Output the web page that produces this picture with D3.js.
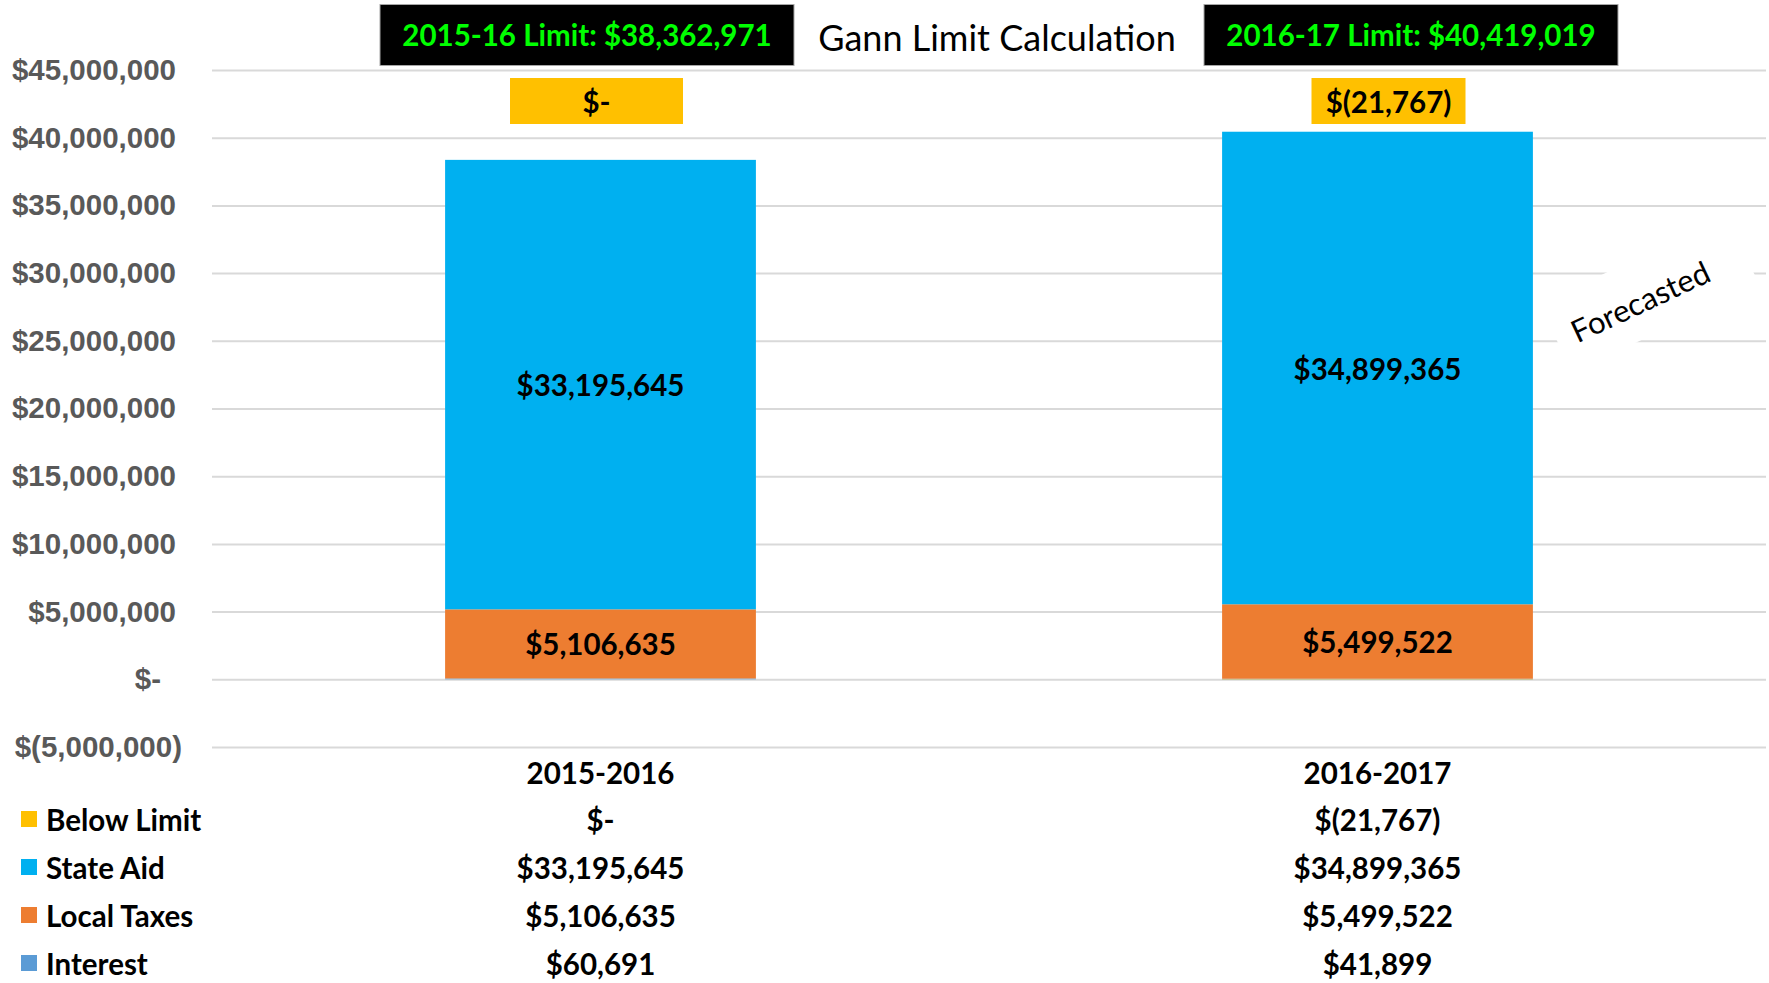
<!DOCTYPE html>
<html>
<head>
<meta charset="utf-8">
<script src="https://cdn.jsdelivr.net/npm/d3@7"></script>
<style>
  body { margin: 0; background: #fff; }
  svg { display: block; font-family: Lato, "Noto Sans", sans-serif; }
</style>
</head>
<body>
<svg width="1769" height="983"></svg>
<script>
// Chart values
const categories = ["2015-2016", "2016-2017"];
const interest = [60691, 41899];
const localTaxes = [5106635, 5499522];
const stateAid = [33195645, 34899365];
const belowLimit = [0, -21767];
const limitNames = ["2015-16 Limit", "2016-17 Limit"];
const limits = [38362971, 40419019];
const yTicks = [-5000000, 0, 5000000, 10000000, 15000000, 20000000, 25000000, 30000000, 35000000, 40000000, 45000000];

const seriesNames = ["Interest", "Local Taxes", "State Aid", "Below Limit"];
const seriesKeys = ["interest", "localTaxes", "stateAid", "belowLimit"];
const colors = {
    interest: "#5B9BD5",
    localTaxes: "#ED7D31",
    stateAid: "#00B0F0",
    belowLimit: "#FFC000"
};

const fs = 29.5; // label font size

// Accounting style money format
const num = d3.format(",.0f");
function money(v) {
    if (v === 0) return "$-";
    if (v < 0) return "$(" + num(-v) + ")";
    return "$" + num(v);
}

function drawChart() {
    const svg = d3.select("svg"),
          margin = {top: 70, right: 3, bottom: 236, left: 212},
          width = +svg.attr("width"),
          height = +svg.attr("height");

    const rows = categories.map((c, i) => ({
        category: c,
        interest: interest[i],
        localTaxes: localTaxes[i],
        stateAid: stateAid[i],
        belowLimit: belowLimit[i]
    }));

    const x = d3.scaleBand()
        .domain(categories)
        .range([margin.left, width - margin.right])
        .paddingInner(0.6)
        .paddingOuter(0.3);

    const y = d3.scaleLinear()
        .domain([yTicks[0], yTicks[yTicks.length - 1]])
        .range([height - margin.bottom, margin.top]);

    // Gridlines + tick labels
    const yAxis = svg.append("g")
        .attr("transform", `translate(${margin.left},0)`)
        .call(d3.axisLeft(y)
            .tickValues(yTicks)
            .tickSize(-(width - margin.left - margin.right))
            .tickPadding(30)
            .tickFormat(money));
    yAxis.select(".domain").remove();
    yAxis.selectAll(".tick line")
        .attr("stroke", "#D9D9D9")
        .attr("stroke-width", 2);
    yAxis.selectAll(".tick text")
        .attr("fill", "#595959")
        .attr("font-size", fs)
        .attr("font-weight", "bold")
        .attr("dx", d => d > 0 ? -6 : (d === 0 ? -21 : 0));

    // "Forecasted" note with white backing
    const note = svg.append("g")
        .attr("transform", "translate(1640,301) rotate(-25)");
    note.append("rect")
        .attr("x", -92).attr("y", -40)
        .attr("width", 207).attr("height", 76)
        .attr("fill", "#fff");
    note.append("text")
        .attr("text-anchor", "middle")
        .attr("dominant-baseline", "central")
        .attr("font-size", 31)
        .text("Forecasted");

    // Stacked bars
    const stack = d3.stack()
        .keys(seriesKeys)
        .offset(d3.stackOffsetDiverging);
    const stacked = stack(rows);

    svg.append("g")
        .selectAll("g")
        .data(stacked)
        .join("g")
        .attr("fill", d => colors[d.key])
        .selectAll("rect")
        .data(d => d)
        .join("rect")
        .attr("x", d => x(d.data.category))
        .attr("width", x.bandwidth())
        .attr("y", d => y(d[1]))
        .attr("height", d => y(d[0]) - y(d[1]));

    // Segment labels
    const labelled = stacked.filter(s => s.key === "localTaxes" || s.key === "stateAid");
    svg.append("g")
        .selectAll("g")
        .data(labelled)
        .join("g")
        .selectAll("text")
        .data(d => d.map(p => ({p, key: d.key})))
        .join("text")
        .attr("x", d => x(d.p.data.category) + x.bandwidth() / 2)
        .attr("y", d => (y(d.p[0]) + y(d.p[1])) / 2)
        .attr("text-anchor", "middle")
        .attr("dominant-baseline", "central")
        .attr("font-size", fs)
        .attr("font-weight", "bold")
        .text(d => money(d.p.data[d.key]));

    // Below limit labels (yellow boxes)
    const boxW = [173, 154], boxShift = [-4, 11];
    const below = svg.append("g")
        .selectAll("g")
        .data(rows)
        .join("g")
        .attr("transform", (d, i) => `translate(${x(d.category) + x.bandwidth() / 2 + boxShift[i]},101)`);
    below.append("rect")
        .attr("x", (d, i) => -boxW[i] / 2)
        .attr("y", -23)
        .attr("width", (d, i) => boxW[i])
        .attr("height", 46)
        .attr("fill", colors.belowLimit);
    below.append("text")
        .attr("text-anchor", "middle")
        .attr("dominant-baseline", "central")
        .attr("font-size", fs)
        .attr("font-weight", "bold")
        .text(d => money(d.belowLimit));

    // Limit boxes (black) and title
    const limitX = [587, 1411];
    const lim = svg.append("g")
        .selectAll("g")
        .data(limits)
        .join("g")
        .attr("transform", (d, i) => `translate(${limitX[i]},35)`);
    lim.append("rect")
        .attr("x", -207).attr("y", -30.5)
        .attr("width", 414).attr("height", 61)
        .attr("fill", "#000")
        .attr("stroke", "#A6A6A6")
        .attr("stroke-width", 1);
    lim.append("text")
        .attr("text-anchor", "middle")
        .attr("dominant-baseline", "central")
        .attr("y", -1)
        .attr("font-size", fs)
        .attr("font-weight", "bold")
        .attr("fill", "#00FF00")
        .text((d, i) => `${limitNames[i]}: ${money(d)}`);

    svg.append("text")
        .attr("x", 997)
        .attr("y", 37)
        .attr("text-anchor", "middle")
        .attr("dominant-baseline", "central")
        .attr("font-size", 36)
        .text("Gann Limit Calculation");

    // Data table under the plot
    const table = svg.append("g");
    table.selectAll(".cat")
        .data(categories)
        .join("text")
        .attr("class", "cat")
        .attr("x", d => x(d) + x.bandwidth() / 2)
        .attr("y", 772)
        .attr("text-anchor", "middle")
        .attr("dominant-baseline", "central")
        .attr("font-size", fs)
        .attr("font-weight", "bold")
        .text(d => d);

    const tableRows = seriesKeys.slice().reverse();
    const rowNames = seriesNames.slice().reverse();
    const rowY = i => 819 + i * 48;

    const tr = table.selectAll(".row")
        .data(tableRows)
        .join("g")
        .attr("class", "row")
        .attr("transform", (d, i) => `translate(0,${rowY(i)})`);
    tr.append("rect")
        .attr("x", 21).attr("y", -8)
        .attr("width", 16).attr("height", 16)
        .attr("fill", d => colors[d]);
    tr.append("text")
        .attr("x", 46)
        .attr("dominant-baseline", "central")
        .attr("font-size", fs)
        .attr("font-weight", "bold")
        .text((d, i) => rowNames[i]);
    tr.selectAll(".val")
        .data(k => rows.map(r => ({cat: r.category, v: r[k]})))
        .join("text")
        .attr("class", "val")
        .attr("x", d => x(d.cat) + x.bandwidth() / 2)
        .attr("text-anchor", "middle")
        .attr("dominant-baseline", "central")
        .attr("font-size", fs)
        .attr("font-weight", "bold")
        .text(d => money(d.v));
}

drawChart();
</script>
</body>
</html>
